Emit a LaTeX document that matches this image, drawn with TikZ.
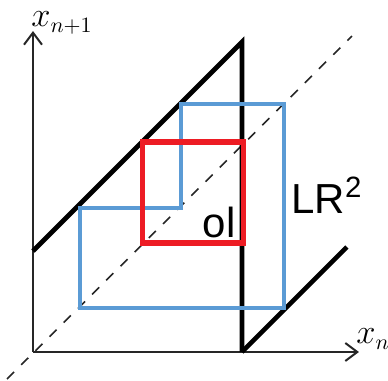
\documentclass[tikz,border=0pt]{standalone}
\usepackage{fontspec}
\setmainfont{Liberation Sans}
\usepackage{tikz}
\usetikzlibrary{arrows.meta}
\definecolor{cblue}{HTML}{5B9BD5}
\definecolor{cred}{HTML}{ED1C24}
\tikzset{
  >={Straight Barb[length=6pt,width=9pt]},
  caxis/.style={black!85, line width=1pt, ->},
  cmap/.style={black, line width=2.3pt},
  cdiag/.style={black!85, line width=0.8pt, dash pattern=on 5pt off 5pt},
  corbit/.style={cblue, line width=2pt},
  ctrap/.style={cred, line width=2.8pt},
  clbl/.style={font=\fontsize{21}{24}\selectfont, inner sep=0pt},
  cvar/.style={font=\fontsize{16}{18}\selectfont, inner sep=0pt},
}
\begin{document}
\begin{tikzpicture}[x=0.5pt, y=-0.5pt]
  \useasboundingbox (0,0) rectangle (388,381);

  % eixos
  \coordinate (O) at (33,352);
  \coordinate (ytip) at (33,31);
  \coordinate (xtip) at (359,352);
  \draw[caxis] (O) -- (ytip);
  \draw[caxis] (O) -- (xtip);
  \node[cvar] (ylbl) at (62,23) {$x_{n+1}$};
  \node[cvar] (xlbl) at (373,339) {$x_n$};

  % diagonal
  \coordinate (d0) at (7,379);
  \coordinate (d1) at (352,36);
  \draw[cdiag] (d0) -- (d1);

  % mapa
  \coordinate (a) at (33,251);
  \coordinate (p) at (242,42);
  \coordinate (q) at (242,352);
  \coordinate (b) at (347,247);
  \draw[cmap, line join=miter] (a) -- (p) -- (q);
  \draw[cmap] (q) -- (b);

  % orbita
  \draw[corbit] (80,208) -- (181,208) -- (181,104) -- (284,104)
    -- (284,308) -- (80,308) -- cycle;

  % quadrado
  \draw[ctrap] (142.5,142) rectangle (243.5,243);

  % legendas
  \node[clbl, anchor=base] (ol) at (219,237) {ol};
  \node[clbl, anchor=base west] (lr) at (291,213) {LR\textsuperscript{2}};

\end{tikzpicture}
\end{document}
